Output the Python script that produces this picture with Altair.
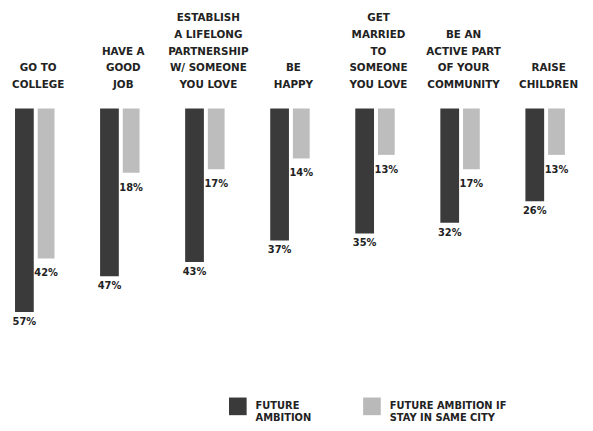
import altair as alt
import pandas as pd

categories = [
    "GO TO|COLLEGE",
    "HAVE A|GOOD|JOB",
    "ESTABLISH|A LIFELONG|PARTNERSHIP|W/ SOMEONE|YOU LOVE",
    "BE|HAPPY",
    "GET|MARRIED|TO|SOMEONE|YOU LOVE",
    "BE AN|ACTIVE PART|OF YOUR|COMMUNITY",
    "RAISE|CHILDREN",
]
ambition = [57, 47, 43, 37, 35, 32, 26]
same_city = [42, 18, 17, 14, 13, 17, 13]
series_names = ["FUTURE|AMBITION", "FUTURE AMBITION IF|STAY IN SAME CITY"]
series_colors = ["#3a3a3a", "#b9b9b9"]

rows = []
for c, a, s in zip(categories, ambition, same_city):
    rows.append({"category": c, "series": series_names[0], "value": a})
    rows.append({"category": c, "series": series_names[1], "value": s})
df = pd.DataFrame(rows)
cat_df = pd.DataFrame({"category": categories})

FONT = "DejaVu Sans"
LINE_H = 16.8
LAST_Y = 80

x = alt.X("category:N", sort=categories, axis=None,
          scale=alt.Scale(range=[-15.5, 588.2], paddingInner=0, paddingOuter=0))
y = alt.Y("value:Q", axis=None, scale=alt.Scale(domain=[0, 60], range=[99, 316.2]))
color = alt.Color(
    "series:N",
    scale=alt.Scale(domain=series_names, range=series_colors),
    legend=alt.Legend(
        title=None, orient="none", legendX=224, legendY=392,
        direction="horizontal", symbolType="square", symbolSize=320,
        symbolStrokeWidth=0, symbolOpacity=1,
        labelFont=FONT, labelFontWeight="bold", labelFontSize=10,
        labelColor="#222222", labelExpr="split(datum.label, '|')",
        columnPadding=52, labelOffset=9, labelLimit=300,
    ),
)

base = alt.Chart(df).transform_calculate(label="datum.value + '%'")

dark = base.transform_filter(alt.datum.series == series_names[0])
light = base.transform_filter(alt.datum.series == series_names[1])

dark_bars = dark.mark_bar(width=19, xOffset=-11).encode(x=x, y=y, color=color)
light_bars = light.mark_bar(width=17, xOffset=11, opacity=0.95).encode(x=x, y=y, color=color)

label_style = dict(font=FONT, fontWeight="bold", fontSize=10, color="#222222",
                   align="center", baseline="top")
dark_text = dark.mark_text(xOffset=-11, dy=5, **label_style).encode(x=x, y=y, text="label:N")
light_text = light.mark_text(xOffset=11, dy=10, **label_style).encode(x=x, y=y, text="label:N")

cat_text = alt.Chart(cat_df).transform_calculate(
    nlines="length(split(datum.category, '|'))"
).mark_text(
    font=FONT, fontWeight="bold", fontSize=10.5, color="#222222",
    align="center", baseline="bottom", lineBreak="|", lineHeight=LINE_H, dx=3,
).encode(
    x=x,
    y=alt.Y("nlines:Q", axis=None,
            scale=alt.Scale(domain=[1, 5], range=[LAST_Y, LAST_Y - 4 * LINE_H], zero=False)),
    text="category:N",
)

chart = alt.layer(dark_bars, light_bars, dark_text, light_text, cat_text).resolve_scale(
    y="independent"
).properties(
    width=585, height=415, autosize=alt.AutoSizeParams(type="none"), padding=0,
    background="white",
).configure_view(stroke=None)

chart.save("out.html", embed_options={"renderer": "svg", "actions": False})
